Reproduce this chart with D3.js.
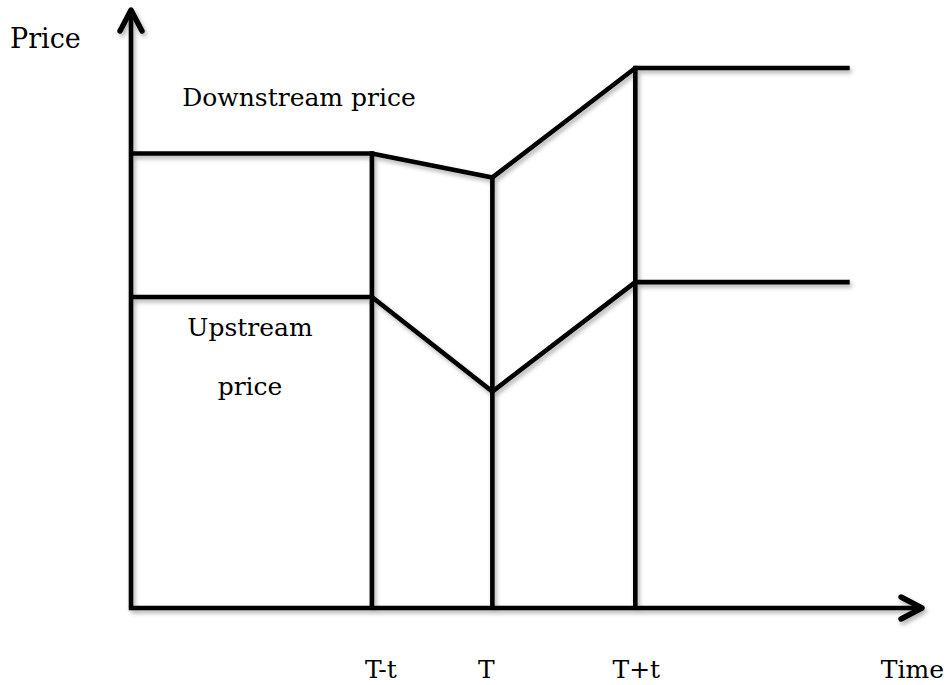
<!DOCTYPE html>
<html>
<head>
<meta charset="utf-8">
<script src="https://cdn.jsdelivr.net/npm/d3@7"></script>
<style>
  html, body { margin: 0; padding: 0; background: #fff; }
  svg { display: block; }
  text { font-family: "DejaVu Serif", "Liberation Serif", serif; fill: #000; }
</style>
</head>
<body>
<svg id="chart" width="948" height="685"></svg>
<script>
// ---- data ----
const timeLabels = ["", "T-t", "T", "T+t", ""];
const timePoints = [0, 3, 4.5, 6.28, 8.95];
const downstreamPrice = [76, 76, 72, 90.3, 90.3];
const upstreamPrice = [52, 52, 36.2, 54.5, 54.5];
const markedTimes = ["T-t", "T", "T+t"];
const axisTitles = { x: "Time", y: "Price" };
const seriesLabels = { downstream: ["Downstream price"], upstream: ["Upstream", "price"] };

// ---- layout ----
const x0 = 131, y0 = 608;
const x = d3.scaleLinear().domain([0, 9.85]).range([x0, 922]);
const y = d3.scaleLinear().domain([0, 100]).range([y0, 10]);
const labelNudge = { "T-t": 9, "T": -6, "T+t": 1 };

const svg = d3.select("#chart");
const defs = svg.append("defs");
const f = defs.append("filter").attr("id", "shadow")
  .attr("x", "-10%").attr("y", "-10%").attr("width", "130%").attr("height", "130%");
f.append("feDropShadow").attr("dx", 2).attr("dy", 3).attr("stdDeviation", 2)
  .attr("flood-color", "#000").attr("flood-opacity", 0.3);

const g = svg.append("g").attr("filter", "url(#shadow)");
const SW = 4.6;

const toPts = vals => timePoints.map((t, i) => [t, vals[i]]);
const line = d3.line().x(d => x(d[0])).y(d => y(d[1]));

// vertical guide lines at marked times
markedTimes.forEach(lbl => {
  const i = timeLabels.indexOf(lbl);
  g.append("line")
    .attr("x1", x(timePoints[i])).attr("x2", x(timePoints[i]))
    .attr("y1", y(0)).attr("y2", y(downstreamPrice[i]) - SW / 2)
    .attr("stroke", "#000").attr("stroke-width", SW);
});

// price lines
[downstreamPrice, upstreamPrice].forEach(vals => {
  g.append("path").datum(toPts(vals))
    .attr("d", line)
    .attr("fill", "none").attr("stroke", "#000")
    .attr("stroke-width", SW).attr("stroke-linejoin", "miter");
});

// axes
const xMax = x.domain()[1], yMax = y.domain()[1];
g.append("path")
  .attr("d", `M${x(0)},${y(0)}H${x(xMax) - 2}M${x(0)},${y(0)}V${y(yMax) + 2}`)
  .attr("fill", "none").attr("stroke", "#000").attr("stroke-width", SW)
  .attr("stroke-linecap", "square");
// arrowheads (open chevrons)
g.append("path")
  .attr("d", `M${x(xMax) - 21},${y(0) - 11}L${x(xMax)},${y(0)}L${x(xMax) - 21},${y(0) + 11}`)
  .attr("fill", "none").attr("stroke", "#000").attr("stroke-width", SW + 0.8)
  .attr("stroke-linejoin", "round").attr("stroke-linecap", "round");
g.append("path")
  .attr("d", `M${x(0) - 11},${y(yMax) + 21}L${x(0)},${y(yMax)}L${x(0) + 11},${y(yMax) + 21}`)
  .attr("fill", "none").attr("stroke", "#000").attr("stroke-width", SW + 0.8)
  .attr("stroke-linejoin", "round").attr("stroke-linecap", "round");

// text
const FS = 25;
svg.append("text").attr("x", 10).attr("y", 48).attr("font-size", 27).text(axisTitles.y);
svg.append("text").attr("x", 944).attr("y", 678).attr("text-anchor", "end").attr("font-size", FS).text(axisTitles.x);

markedTimes.forEach(lbl => {
  const i = timeLabels.indexOf(lbl);
  svg.append("text").attr("x", x(timePoints[i]) + labelNudge[lbl]).attr("y", 678)
    .attr("text-anchor", "middle").attr("font-size", FS).text(lbl);
});

svg.append("text").attr("x", 299).attr("y", 106).attr("text-anchor", "middle")
  .attr("font-size", FS).text(seriesLabels.downstream[0]);
seriesLabels.upstream.forEach((s, k) => {
  svg.append("text").attr("x", 250).attr("y", 336 + k * 59).attr("text-anchor", "middle")
    .attr("font-size", FS).text(s);
});
</script>
</body>
</html>
